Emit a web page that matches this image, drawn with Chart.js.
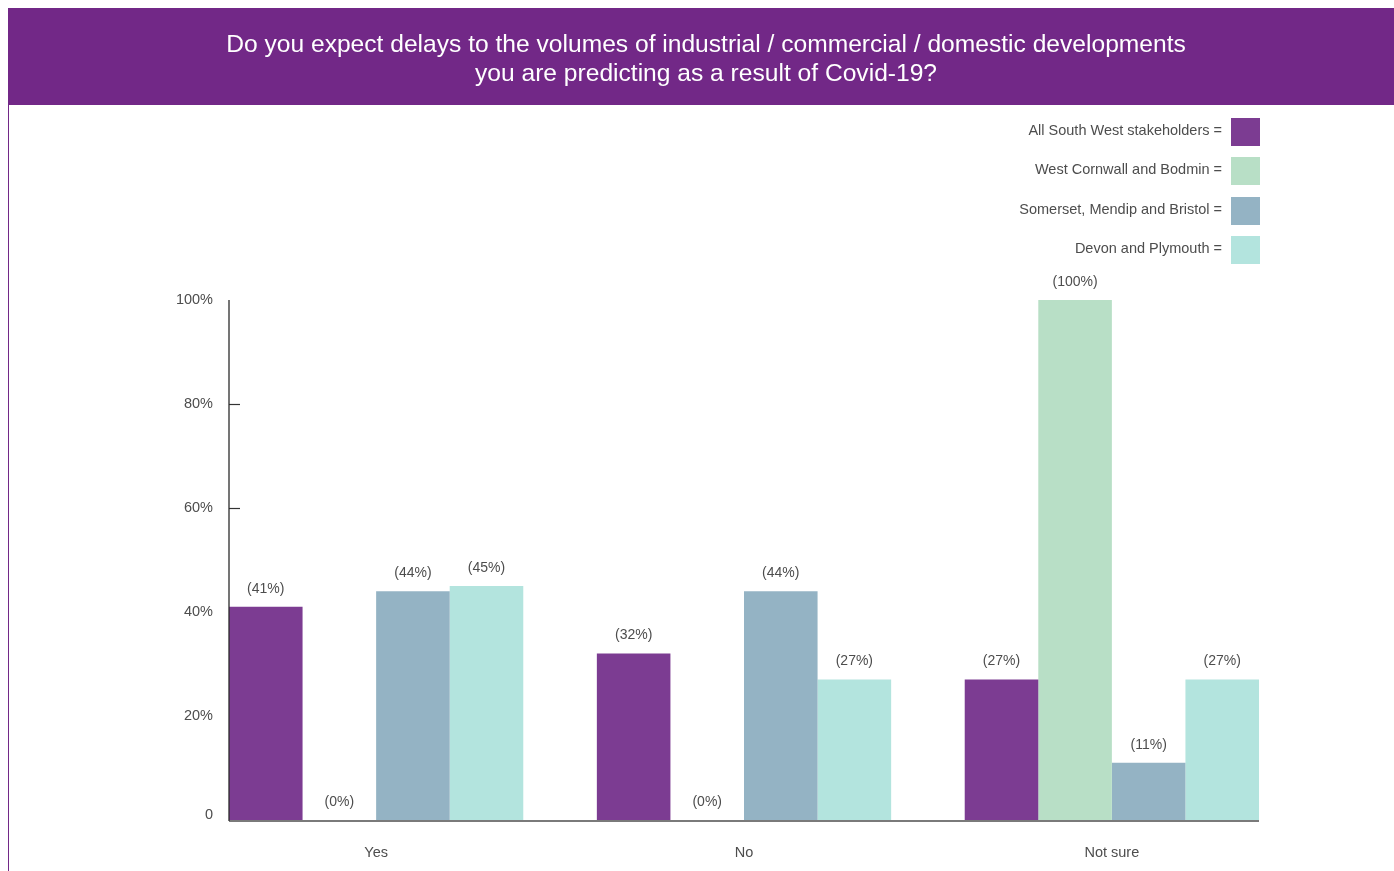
<!DOCTYPE html>
<html>
<head>
<meta charset="utf-8">
<title>Expected delays to development volumes</title>
<script src="https://cdn.jsdelivr.net/npm/chart.js@4/dist/chart.umd.min.js"></script>
<style>
  html, body { margin: 0; padding: 0; background: #fff; }
  canvas { display: block; }
</style>
</head>
<body>
<canvas id="chart" width="1394" height="871"></canvas>
<script>
// ---- data ----
const categories = ['Yes', 'No', 'Not sure'];
const seriesNames = [
  'All South West stakeholders',
  'West Cornwall and Bodmin',
  'Somerset, Mendip and Bristol',
  'Devon and Plymouth'
];
const allSouthWest = [41, 32, 27];
const westCornwallBodmin = [0, 0, 100];
const somersetMendipBristol = [44, 44, 11];
const devonPlymouth = [45, 27, 27];
const yTickValues = [0, 20, 40, 60, 80, 100];
const titleLines = [
  'Do you expect delays to the volumes of industrial / commercial / domestic developments',
  'you are predicting as a result of Covid-19?'
];

// ---- styling ----
const FONT = '"Liberation Sans", Arial, Helvetica, sans-serif';
const TEXT = '#4d4d4d';
const HEADER = '#722887';
const seriesColors = ['#7c3c92', '#b8dfc6', '#94b3c4', '#b3e4de'];
const seriesValues = [allSouthWest, westCornwallBodmin, somersetMendipBristol, devonPlymouth];

const yLabel = v => (v === 0 ? '0' : v + '%');

function plotBounds(chart) {
  const first = chart.getDatasetMeta(0).data[0];
  const lastMeta = chart.getDatasetMeta(chart.data.datasets.length - 1);
  const last = lastMeta.data[lastMeta.data.length - 1];
  const y = chart.scales.y;
  return {
    left: Math.round(first.x - first.width / 2),
    right: Math.round(last.x + last.width / 2),
    bottom: y.getPixelForValue(0),
    top: y.getPixelForValue(100)
  };
}

const decorations = {
  id: 'decorations',
  beforeDraw(chart) {
    const ctx = chart.ctx;
    ctx.save();
    ctx.fillStyle = '#fff';
    ctx.fillRect(0, 0, chart.width, chart.height);

    // header band with the question
    ctx.fillStyle = HEADER;
    ctx.fillRect(8, 8, chart.width - 8, 97);
    ctx.fillStyle = '#fff';
    ctx.font = '24.6px ' + FONT;
    ctx.textAlign = 'center';
    ctx.textBaseline = 'middle';
    titleLines.forEach((line, i) => ctx.fillText(line, 706, 45 + i * 29));

    // thin rule down the left edge
    ctx.strokeStyle = HEADER;
    ctx.lineWidth = 1;
    ctx.beginPath();
    ctx.moveTo(8.5, 105);
    ctx.lineTo(8.5, chart.height);
    ctx.stroke();

    // legend: label, '=', swatch on the right
    ctx.font = '14.5px ' + FONT;
    ctx.textAlign = 'right';
    chart.data.datasets.forEach((ds, i) => {
      const cy = 132 + i * 39.3;
      ctx.fillStyle = TEXT;
      ctx.fillText(ds.label + ' =', 1222, cy - 1);
      ctx.fillStyle = ds.backgroundColor;
      ctx.fillRect(1231, Math.round(cy - 14), 29, 28);
    });
    ctx.restore();
  },
  beforeDatasetsDraw(chart) {
    const ctx = chart.ctx;
    const b = plotBounds(chart);
    const y = chart.scales.y;
    ctx.save();
    // y tick labels
    ctx.font = '14.5px ' + FONT;
    ctx.fillStyle = TEXT;
    ctx.textAlign = 'right';
    ctx.textBaseline = 'middle';
    yTickValues.forEach(v => {
      const py = y.getPixelForValue(v) - (v === 0 ? 5 : 0);
      ctx.fillText(yLabel(v), b.left - 16, py);
    });
    // short tick marks to the right of the axis
    ctx.strokeStyle = '#333';
    ctx.lineWidth = 1.2;
    yTickValues.filter(v => v > 0 && v < 100).forEach(v => {
      const py = Math.round(y.getPixelForValue(v)) + 0.5;
      ctx.beginPath();
      ctx.moveTo(b.left, py);
      ctx.lineTo(b.left + 11, py);
      ctx.stroke();
    });
    ctx.restore();
  },
  afterDatasetsDraw(chart) {
    const ctx = chart.ctx;
    const b = plotBounds(chart);
    ctx.save();
    // x axis baseline
    ctx.strokeStyle = '#7a7a7a';
    ctx.lineWidth = 2;
    ctx.beginPath();
    ctx.moveTo(b.left, b.bottom + 1);
    ctx.lineTo(b.right, b.bottom + 1);
    ctx.stroke();
    // y axis line
    ctx.strokeStyle = '#2b2b2b';
    ctx.lineWidth = 1.3;
    ctx.beginPath();
    ctx.moveTo(b.left, b.top);
    ctx.lineTo(b.left, b.bottom + 1);
    ctx.stroke();

    // value labels above each bar
    ctx.font = '14px ' + FONT;
    ctx.fillStyle = TEXT;
    ctx.textAlign = 'center';
    ctx.textBaseline = 'middle';
    chart.data.datasets.forEach((ds, di) => {
      chart.getDatasetMeta(di).data.forEach((bar, i) => {
        ctx.fillText('(' + ds.data[i] + '%)', bar.x, bar.y - 18);
      });
    });
    ctx.restore();
  }
};

new Chart(document.getElementById('chart'), {
  type: 'bar',
  data: {
    labels: categories,
    datasets: seriesNames.map((name, i) => ({
      label: name,
      data: seriesValues[i],
      backgroundColor: seriesColors[i],
      borderWidth: 0,
      barPercentage: 1,
      categoryPercentage: 0.8
    }))
  },
  options: {
    responsive: false,
    animation: false,
    layout: { padding: { top: 300, left: 192.2, right: 98.2, bottom: 0 } },
    plugins: {
      legend: { display: false },
      tooltip: { enabled: false },
      title: { display: false }
    },
    scales: {
      x: {
        grid: { display: false },
        border: { display: false },
        ticks: { color: TEXT, font: { family: FONT, size: 14.5 }, padding: 16 },
        afterFit(scale) { scale.height = 51; }
      },
      y: {
        display: false,
        min: 0,
        max: 100
      }
    }
  },
  plugins: [decorations]
});
</script>
</body>
</html>
